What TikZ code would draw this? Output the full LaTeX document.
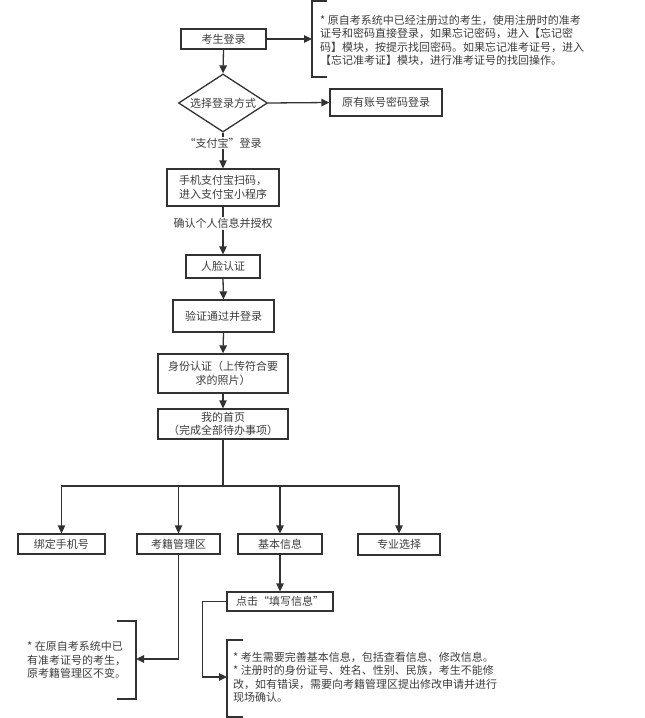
\documentclass[tikz,border=0pt]{standalone}
\usepackage{fontspec}
\setmainfont{Noto Sans CJK SC}
\usetikzlibrary{arrows.meta,shapes.geometric}
\definecolor{ln}{RGB}{50,50,50}
\definecolor{tx}{RGB}{60,60,60}
\tikzset{
  base/.style={font=\fontsize{11}{13.5}\selectfont, text=tx},
  box/.style={base, draw=ln, line width=1.3pt, rectangle, inner sep=0pt, align=center},
  lbl/.style={base, fill=white, inner sep=1pt},
  note/.style={base, align=left, inner sep=0pt, anchor=west},
  arr/.style={draw=ln, line width=1.3pt, -{Triangle[length=8pt,width=7.5pt]}},
  brk/.style={draw=ln, line width=1.3pt},
}
\begin{document}
\begin{tikzpicture}[x=1pt,y=-1pt]
\useasboundingbox (0,0) rectangle (645,718);
% main column
\node[box, minimum width=85, minimum height=20] (n1) at (223.5,39) {考生登录};
\node[box, shape=diamond, aspect=1.53, minimum width=89, minimum height=58] (d) at (223,103) {选择登录方式};
\node[box, minimum width=112, minimum height=27] (n2) at (386,102.5) {原有账号密码登录};
\node[box, minimum width=112, minimum height=37] (n3) at (223,187.5) {手机支付宝扫码，\\进入支付宝小程序};
\node[box, minimum width=74, minimum height=23] (n4) at (223,266.5) {人脸认证};
\node[box, minimum width=101, minimum height=32] (n5) at (223.5,316) {验证通过并登录};
\node[box, minimum width=130, minimum height=39] (n6) at (223,373.5) {身份认证（上传符合要\\求的照片）};
\node[box, minimum width=130, minimum height=30] (n7) at (223,424) {我的首页\\（完成全部待办事项）};
% branches
\node[box, minimum width=87, minimum height=20] (b1) at (61.5,544) {绑定手机号};
\node[box, minimum width=83, minimum height=20] (b2) at (178.5,544) {考籍管理区};
\node[box, minimum width=84, minimum height=20] (b3) at (280,544) {基本信息};
\node[box, minimum width=82, minimum height=21] (b4) at (399,544.5) {专业选择};
\node[box, minimum width=106, minimum height=19] (n8) at (280,601.5) {点击“填写信息”};
% notes
\node[note] (t1) at (320,40.5) {* 原自考系统中已经注册过的考生，使用注册时的准考\\证号和密码直接登录，如果忘记密码，进入【忘记密\\码】模块，按提示找回密码。如果忘记准考证号，进入\\【忘记准考证】模块，进行准考证号的找回操作。};
\node[note] (t2) at (27,660) {* 在原自考系统中已\\有准考证号的考生，\\原考籍管理区不变。};
\node[note] (t3) at (233,677.5) {* 考生需要完善基本信息，包括查看信息、修改信息。\\* 注册时的身份证号、姓名、性别、民族，考生不能修\\改，如有错误，需要向考籍管理区提出修改申请并进行\\现场确认。};
% coordinates
\coordinate (c1) at (312,39);
\coordinate (j) at (223,486);
\coordinate (c2) at (136,659);
\coordinate (c3) at (227,677);
% brackets
\draw[brk] (327,1) -- (312,1) -- (312,77) -- (327,77);
\draw[brk] (117,621) -- (136,621) -- (136,699) -- (117,699);
\draw[brk] (243,640) -- (227,640) -- (227,717) -- (243,717);
% connectors
\draw[arr] (n1.east) -- (c1);
\draw[arr] (n1.south) -- (d.north);
\draw[arr] (d.east) -- (n2.west);
\draw[arr] (d.south) -- (n3.north) node[lbl, pos=0.3] (l1) {“支付宝”登录};
\draw[arr] (n3.south) -- (n4.north) node[lbl, pos=0.35] (l2) {确认个人信息并授权};
\draw[arr] (n4.south) -- (n5.north);
\draw[arr] (n5.south) -- (n6.north);
\draw[arr] (n6.south) -- (n7.north);
\draw[draw=ln, line width=1.3pt] (n7.south) -- (j);
\draw[arr] (j) -| (b1.north);
\draw[arr] (j) -| (b2.north);
\draw[arr] (j) -| (b3.north);
\draw[arr] (j) -| (b4.north);
\draw[arr] (b2.south) |- (c2);
\draw[arr] (b3.south) -- (n8.north);
\draw[arr] (n8.west) -- ++(-24,0) |- (c3);
\end{tikzpicture}
\end{document}
